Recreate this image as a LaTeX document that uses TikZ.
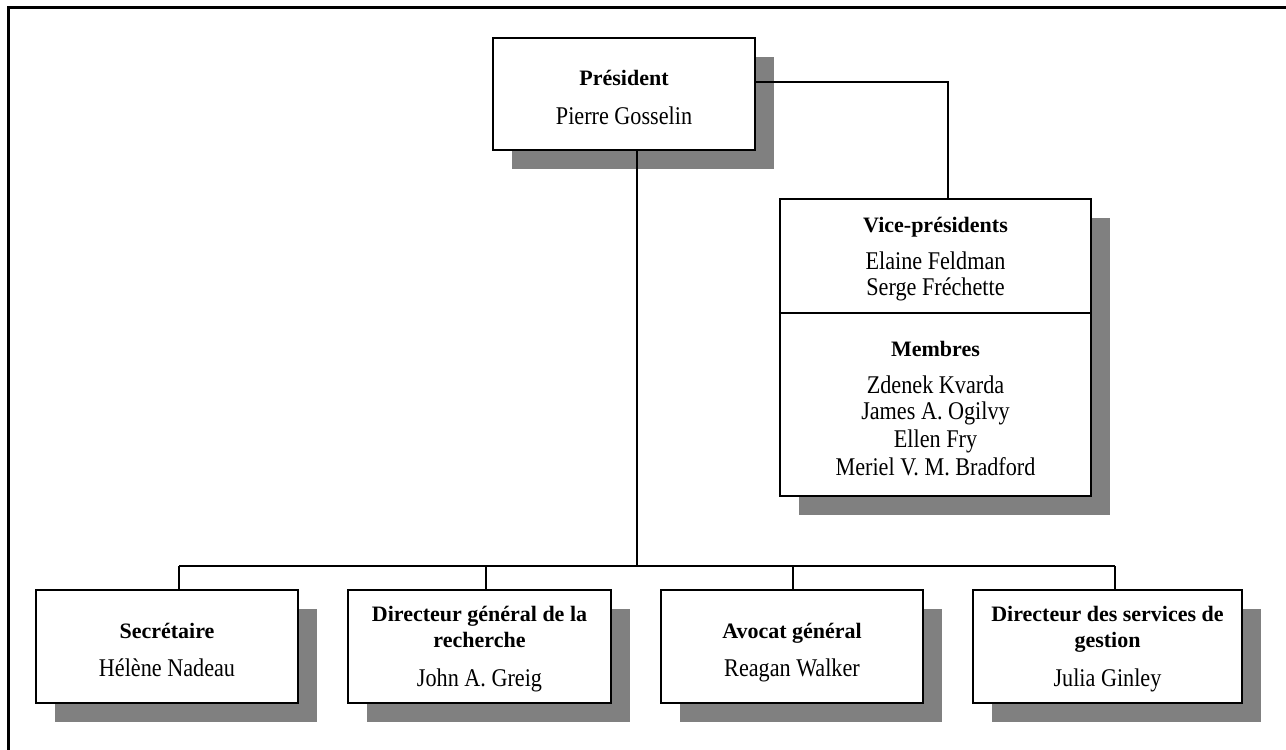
\documentclass[tikz,border=0pt]{standalone}
\usepackage{fontspec}
\setmainfont{Liberation Serif}
\newfontfamily\nmfont[FakeStretch=0.87]{Liberation Serif}
\usetikzlibrary{shadows}
\definecolor{shadowgray}{HTML}{808080}
\begin{document}
\begin{tikzpicture}[x=1pt,y=-1pt,
  orgbox/.style={draw, line width=2.2pt, fill=white, inner sep=0pt,
    general shadow={fill=shadowgray, shadow xshift=19pt, shadow yshift=-19pt}},
  ttl/.style={anchor=base, font=\fontsize{22}{26}\selectfont\bfseries, inner sep=0pt},
  nm/.style={anchor=base, font=\nmfont\fontsize{25.5}{28}\selectfont, inner sep=0pt},
  conn/.style={line width=2pt},
  frameline/.style={line width=2.6pt}]
\useasboundingbox (0,0) rectangle (1286,750);
% frame
\coordinate (fbl) at (8.5,750);
\coordinate (ftl) at (8.5,7.5);
\coordinate (ftr) at (1286,7.5);
\draw[frameline] (fbl) -- (ftl) -- (ftr);

% boxes
\node[orgbox, minimum width=262pt, minimum height=112pt] (pres) at (624,94) {};
\node[orgbox, minimum width=311pt, minimum height=297pt] (vp) at (935.5,347.5) {};
\node[orgbox, minimum width=262pt, minimum height=113pt] (b1) at (167,646.5) {};
\node[orgbox, minimum width=263pt, minimum height=113pt] (b2) at (479.5,646.5) {};
\node[orgbox, minimum width=262pt, minimum height=113pt] (b3) at (792,646.5) {};
\node[orgbox, minimum width=269pt, minimum height=113pt] (b4) at (1107.5,646.5) {};

% VP divider
\coordinate (vpdiv) at (935.5,313);
\draw[line width=2.2pt] (vpdiv -| vp.west) -- (vpdiv -| vp.east);

% texts
\node[ttl] (t0) at (624,85) {Président};
\node[nm] (n0) at (624,124) {Pierre Gosselin};

\node[ttl] (tvp) at (935.5,232) {Vice-présidents};
\node[nm] (nvp1) at (935.5,269) {Elaine Feldman};
\node[nm] (nvp2) at (935.5,295) {Serge Fréchette};
\node[ttl] (tmb) at (935.5,356) {Membres};
\node[nm] (nmb1) at (935.5,393) {Zdenek Kvarda};
\node[nm] (nmb2) at (935.5,419) {James A. Ogilvy};
\node[nm] (nmb3) at (935.5,447) {Ellen Fry};
\node[nm] (nmb4) at (935.5,475) {Meriel V. M. Bradford};

\node[ttl] (t1) at (167,638) {Secrétaire};
\node[nm] (n1) at (167,676) {Hélène Nadeau};

\node[ttl] (t2a) at (479.5,621) {Directeur général de la};
\node[ttl] (t2b) at (479.5,647.5) {recherche};
\node[nm] (n2) at (479.5,686) {John A. Greig};

\node[ttl] (t3) at (792,638) {Avocat général};
\node[nm] (n3) at (792,676) {Reagan Walker};

\node[ttl] (t4a) at (1107.5,621) {Directeur des services de};
\node[ttl] (t4b) at (1107.5,647.5) {gestion};
\node[nm] (n4) at (1107.5,686) {Julia Ginley};

% connectors
\coordinate (pv) at (948,82);
\draw[conn] (pres.east |- pv) -- (pv) -- (pv |- vp.north);
\coordinate (bus) at (636.5,566);
\coordinate (d1) at (179,566);
\coordinate (d2) at (486,566);
\coordinate (d3) at (793,566);
\coordinate (d4) at (1115,566);
\draw[conn] (bus |- pres.south) -- (bus);
\draw[conn] (d1) -- (d4);
\draw[conn] (d1) -- (d1 |- b1.north);
\draw[conn] (d2) -- (d2 |- b2.north);
\draw[conn] (d3) -- (d3 |- b3.north);
\draw[conn] (d4) -- (d4 |- b4.north);
\end{tikzpicture}
\end{document}
